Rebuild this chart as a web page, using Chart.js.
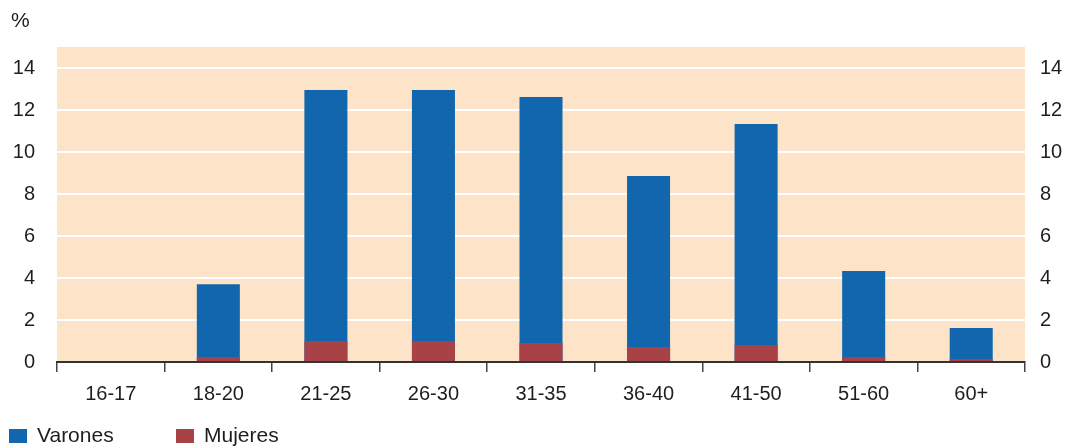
<!DOCTYPE html>
<html>
<head>
<meta charset="utf-8">
<script src="https://cdn.jsdelivr.net/npm/chart.js@4"></script>
<style>
    html, body { margin: 0; padding: 0; background: #fff; }
    #wrap { width: 1068px; height: 448px; position: relative; }
</style>
</head>
<body>
<div id="wrap"><canvas id="chart" width="1068" height="448"></canvas></div>
<script>
// Age groups and share (%) by sex
const categories = ['16-17', '18-20', '21-25', '26-30', '31-35', '36-40', '41-50', '51-60', '60+'];
const varones = [0, 3.7, 12.95, 12.95, 12.62, 8.86, 11.33, 4.33, 1.62];
const mujeres = [0, 0.24, 1.0, 1.0, 0.9, 0.71, 0.81, 0.24, 0.14];
const yTicks = [0, 2, 4, 6, 8, 10, 12, 14];

const FONT = 'Liberation Sans, Arial, sans-serif';
const TEXT = '#1e1e1e';

// beige plot background, the "%" unit label and the legend row
const bgPlugin = {
    id: 'bgPlugin',
    beforeDraw(chart) {
        const { ctx, chartArea } = chart;
        ctx.save();
        ctx.fillStyle = '#fde4c9';
        ctx.fillRect(chartArea.left, chartArea.top, chartArea.right - chartArea.left, chartArea.bottom - chartArea.top);
        ctx.restore();
    },
    afterDraw(chart) {
        const ctx = chart.ctx;
        ctx.save();
        ctx.fillStyle = TEXT;
        ctx.font = '21px ' + FONT;
        ctx.textBaseline = 'middle';
        ctx.fillText('%', 11, 21);

        // legend: one entry per dataset
        const startX = [9, 176];
        chart.data.datasets.forEach((ds, i) => {
            const x = startX[i];
            ctx.fillStyle = ds.backgroundColor;
            ctx.fillRect(x, 429, 18, 14);
            ctx.fillStyle = TEXT;
            ctx.font = '21px ' + FONT;
            ctx.fillText(ds.label, x + 28, 436);
        });
        ctx.restore();
    }
};

function keepTicks(axis) {
    axis.ticks = yTicks.map(v => ({ value: v }));
}

new Chart(document.getElementById('chart'), {
    type: 'bar',
    data: {
        labels: categories,
        datasets: [
            {
                label: 'Varones',
                data: varones,
                backgroundColor: '#1166ad',
                borderWidth: 0,
                order: 2
            },
            {
                label: 'Mujeres',
                data: mujeres,
                backgroundColor: '#a84246',
                borderWidth: 0,
                order: 1
            }
        ]
    },
    options: {
        responsive: false,
        animation: false,
        layout: { padding: { top: 47, left: 0, right: 0, bottom: 42 } },
        datasets: {
            bar: { grouped: false, barPercentage: 0.4, categoryPercentage: 1 }
        },
        plugins: {
            legend: { display: false },
            tooltip: { enabled: false }
        },
        scales: {
            x: {
                offset: true,
                grid: {
                    display: true,
                    offset: true,
                    drawOnChartArea: false,
                    drawTicks: true,
                    tickLength: 10,
                    color: '#444',
                    lineWidth: 1.5
                },
                border: { display: true, color: '#333', width: 2 },
                ticks: {
                    color: TEXT,
                    font: { family: FONT, size: 20 },
                    padding: 10,
                    maxRotation: 0
                },
                afterFit(scale) { scale.height = 44; }
            },
            y: {
                position: 'left',
                min: 0,
                max: 15,
                afterBuildTicks: keepTicks,
                grid: {
                    color: ctx => ctx.tick && ctx.tick.value === 0 ? 'rgba(0,0,0,0)' : '#ffffff',
                    lineWidth: 2,
                    drawTicks: false
                },
                border: { display: false },
                ticks: {
                    color: TEXT,
                    font: { family: FONT, size: 20 },
                    padding: 22
                },
                afterFit(scale) { scale.width = 57; }
            },
            y2: {
                position: 'right',
                min: 0,
                max: 15,
                afterBuildTicks: keepTicks,
                grid: { display: false, drawTicks: false },
                border: { display: false },
                ticks: {
                    color: TEXT,
                    font: { family: FONT, size: 20 },
                    padding: 15
                },
                afterFit(scale) { scale.width = 43; }
            }
        }
    },
    plugins: [bgPlugin]
});
</script>
</body>
</html>
